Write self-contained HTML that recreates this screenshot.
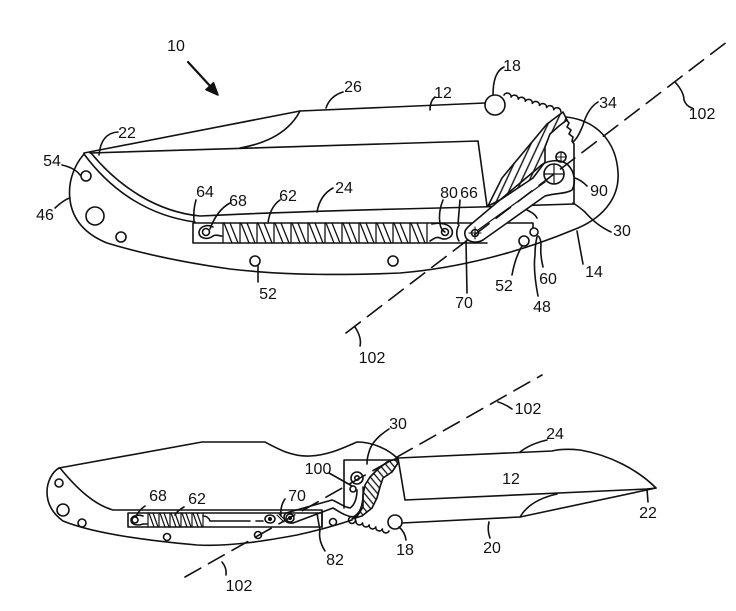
<!DOCTYPE html>
<html><head><meta charset="utf-8"><style>
html,body{margin:0;padding:0;background:#fff;}
svg{display:block;}
text{font-family:"Liberation Sans",sans-serif;font-size:16px;fill:#111;text-anchor:middle;}
</style></head><body>
<svg width="736" height="611" viewBox="0 0 736 611" xmlns="http://www.w3.org/2000/svg">
<defs>
<pattern id="h1" patternUnits="userSpaceOnUse" width="7" height="7" patternTransform="rotate(25)">
<line x1="3" y1="0" x2="3" y2="7" stroke="#111" stroke-width="1.4"/></pattern>
<pattern id="h2" patternUnits="userSpaceOnUse" width="5" height="5" patternTransform="rotate(-40)">
<line x1="2" y1="0" x2="2" y2="5" stroke="#111" stroke-width="1.3"/></pattern>
</defs>
<rect width="736" height="611" fill="#fff"/>
<g fill="none" stroke="#111" stroke-width="1.6" stroke-linejoin="round" stroke-linecap="round">

<!-- ===== TOP FIGURE ===== -->
<line x1="188" y1="62" x2="211" y2="87" stroke-width="2.2"/>
<polygon points="218,95 206,89.6 213.5,82.8" fill="#111"/>

<path d="M84,153 L300,111 L485,103"/>
<circle cx="495" cy="105" r="10"/>
<path d="M504,95 a3.8,3.8 0 0 1 7.1,2.1 a3.8,3.8 0 0 1 7.1,2.1 a3.8,3.8 0 0 1 7.1,2.1 a3.8,3.8 0 0 1 7.1,2.1 a3.8,3.8 0 0 1 7.1,2.1 a3.8,3.8 0 0 1 7.1,2.1 a3.8,3.8 0 0 1 7.1,2.1 a3.8,3.8 0 0 1 7.1,2.1"/>
<path d="M90,153 L478,141 L487,206"/>
<path d="M300,111 Q285,140 240,148"/>
<path d="M84,154 C112,192 150,216 195,222"/>
<path d="M91,153 C120,188 158,212 200,216 Q300,211 480,207 L574,204"/>
<path d="M84,154 C72,168 68,185 70,200 C72,215 80,232 107,243 C140,253 180,262 230,269 C290,276 350,275 400,273 C460,268 520,252 573,230 C600,220 620,200 618,172 C616,140 595,120 566,117"/>
<circle cx="86" cy="176" r="5"/>
<circle cx="95" cy="216" r="9"/>
<circle cx="121" cy="237" r="5"/>
<circle cx="255" cy="261" r="5"/>
<circle cx="393" cy="261" r="5"/>
<circle cx="524" cy="241" r="5"/>
<circle cx="534" cy="232" r="4"/>
<path d="M533,228 L533,223 L193,223 L193,243 L487,243"/>
<g stroke-width="1.3">
<path d="M223,223 V243 M224,223 L232,243 M230,223 L238,243
M240,223 V243 M241,223 L249,243 M247,223 L255,243
M257,223 V243 M258,223 L266,243 M264,223 L272,243
M274,223 V243 M275,223 L283,243 M281,223 L289,243
M291,223 V243 M292,223 L300,243 M298,223 L306,243
M308,223 V243 M309,223 L317,243 M315,223 L323,243
M325,223 V243 M326,223 L334,243 M332,223 L340,243
M342,223 V243 M343,223 L351,243 M349,223 L357,243
M359,223 V243 M360,223 L368,243 M366,223 L374,243
M376,223 V243 M377,223 L385,243 M383,223 L391,243
M393,223 V243 M394,223 L402,243 M400,223 L408,243
M410,223 V243 M411,223 L419,243 M417,223 L425,243
M427,223 V243"/>
</g>
<circle cx="206" cy="232" r="3.5"/>
<path d="M213,227 C208,224 200,226 199,232 C199,239 208,240 213,236 C216,234 219,236 222,236"/>
<circle cx="445" cy="232" r="3.5"/>
<path d="M432,224 C440,222 450,224 452,230 C454,237 446,241 440,238 C436,236 432,240 430,241"/>
<path d="M459,225 C456,230 456,236 459,241"/>
<path d="M469,226 L538,168 C545,160 560,158 568,165 C575,172 576,183 572,190 C566,194 555,193 545,196 L483,240 C476,244 466,242 465,235 C464,231 466,229 469,226 Z" fill="#fff"/>
<path d="M478,230 L545,182" stroke-width="1.2"/>
<circle cx="475" cy="233" r="3.5"/>
<path d="M475,227 V239 M469,233 H481" stroke-width="1.1"/>
<circle cx="554" cy="174" r="10"/>
<path d="M554,164 V184 M544,174 H564" stroke-width="1.2"/>
<circle cx="561" cy="157" r="5"/>
<path d="M561,152 V162 M556,157 H566" stroke-width="1.1"/>
<path d="M527,210 C531,212 535,214 537,218"/>
<path d="M488,206 L502,178 L527,148 L547,124 L563,112 L567,120 L559,126 L550,134 L545,147 L545,162 L533,178 L500,200 Z" fill="url(#h1)"/>
<path d="M566,119 L569,123 L567,127 L571,130 L569,134 L573,137 L572,141 L574,144 L574,204"/>

<line x1="346" y1="333" x2="732" y2="38" stroke-dasharray="18,9"/>

<path d="M343,92 Q330,96 326,108"/>
<path d="M435,97 Q430,101 430,110"/>
<path d="M504,67 Q493,72 493,95"/>
<path d="M598,102 Q588,108 583,125 Q578,138 573,142"/>
<path d="M675,82 Q684,92 684,100 Q686,106 692,108"/>
<path d="M118,132 Q101,133 99,155"/>
<path d="M62,165 Q75,168 80,175"/>
<path d="M55,208 Q65,199 70,198"/>
<path d="M196,200 Q193,210 194,222"/>
<path d="M230,203 Q217,210 210,229"/>
<path d="M280,200 Q270,207 268,223"/>
<path d="M333,188 Q320,195 317,212"/>
<path d="M258,266 L258,282"/>
<path d="M443,200 Q438,212 440,224 Q441,230 445,232"/>
<path d="M460,200 L458,224"/>
<path d="M587,186 Q581,180 575,178"/>
<path d="M611,232 Q596,225 585,212 Q578,206 573,203"/>
<path d="M583,264 Q580,248 577,231"/>
<path d="M543,267 Q540,255 541,245 Q541,238 538,236"/>
<path d="M512,275 Q515,258 522,246"/>
<path d="M538,296 Q533,270 535,255 Q535,245 537,237"/>
<path d="M467,293 L466,241"/>
<path d="M360,346 Q362,338 355,327"/>

<!-- ===== BOTTOM FIGURE ===== -->
<path d="M59,468 L202,442 L265,442 C280,450 293,457 310,456 C330,455 345,447 357,442 C372,442 388,449 397,458"/>
<path d="M59,468 C52,472 47,482 47,492 C47,503 52,513 63,521 C90,532 140,540 197,545 C230,547 270,540 297,535 C320,530 340,524 352,520"/>
<path d="M60,468 C78,490 95,505 113,510 L322,510 L322,527"/>
<rect x="128" y="513" width="194" height="14"/>
<g stroke-width="1.2">
<path d="M148,513 V527 M149,513 L154,527 M153,513 L158,527
M159,513 V527 M160,513 L165,527 M164,513 L169,527
M170,513 V527 M171,513 L176,527 M175,513 L180,527
M181,513 V527 M182,513 L187,527 M186,513 L191,527
M192,513 V527 M193,513 L198,527 M197,513 L202,527
M203,513 V527"/>
</g>
<circle cx="135" cy="520" r="3"/>
<path d="M143,516 C138,514 131,516 131,520 C131,525 138,526 143,524 L147,524"/>
<path d="M203,516 C207,516 209,518 210,521 L250,521 M256,521 L263,521"/>
<ellipse cx="270" cy="519" rx="5" ry="4"/>
<circle cx="270" cy="519" r="1.3" fill="#111"/>
<path d="M277,515 L284,522 M279,514 L286,521" stroke-width="1.1"/>
<path d="M286,513 L332,500 C338,502 343,507 350,508 C355,505 357,497 357,490"/>
<path d="M293,523 L333,508 C340,512 345,516 353,517 C360,514 364,505 363,487"/>
<path d="M286,513 C282,516 284,524 293,523"/>
<circle cx="290" cy="518" r="4"/>
<circle cx="290" cy="518" r="1.3" fill="#111"/>
<path d="M344,508 L344,460 L398,460"/>
<circle cx="357" cy="478" r="6"/>
<circle cx="357" cy="478" r="2.2"/>
<circle cx="353" cy="489" r="3"/>
<path d="M398,458 L387,462 L377,470 L370,477 L365,485 L363,495 L363,507 L358,515 L352,519 L362,516 L372,508 L377,498 L380,487 L383,478 L392,472 L398,463 Z" fill="url(#h2)"/>
<circle cx="59" cy="483" r="4"/>
<circle cx="63" cy="510" r="6"/>
<circle cx="82" cy="523" r="4"/>
<circle cx="167" cy="537" r="3.5"/>
<circle cx="258" cy="535" r="3.5"/>
<circle cx="333" cy="522" r="3.5"/>
<circle cx="352" cy="520" r="3.5"/>
<path d="M356,521 a3.5,3.5 0 0 0 6.6,2 a3.5,3.5 0 0 0 6.6,2 a3.5,3.5 0 0 0 6.6,2 a3.5,3.5 0 0 0 6.6,2 a3.5,3.5 0 0 0 6.6,2"/>
<circle cx="395" cy="522" r="7"/>
<path d="M398,458 L552,451 C560,449 570,449 580,450 C610,455 638,470 656,488 L647,489 L405,500 Z"/>
<path d="M402,523 L520,517 L656,488"/>
<path d="M520,517 Q530,500 557,494"/>
<line x1="185" y1="577" x2="542" y2="375" stroke-dasharray="18,9"/>
<path d="M498,402 Q505,404 512,409"/>
<path d="M389,429 Q372,440 369,452 Q367,458 367,464"/>
<path d="M520,452 Q530,444 547,440"/>
<path d="M329,473 L352,486"/>
<path d="M145,506 Q138,511 136,517"/>
<path d="M184,507 Q177,511 175,515"/>
<path d="M285,499 Q280,506 281,516"/>
<path d="M647,489 L648,502"/>
<path d="M489,522 Q487,530 490,538"/>
<path d="M399,527 Q405,532 406,540"/>
<path d="M325,551 Q318,540 320,530 Q318,520 317,513"/>
<path d="M222,562 Q227,568 226,575"/>
</g>

<text x="176" y="51">10</text>
<text x="353" y="92">26</text>
<text x="443" y="98">12</text>
<text x="512" y="71">18</text>
<text x="608" y="108">34</text>
<text x="702" y="119">102</text>
<text x="127" y="138">22</text>
<text x="52" y="166">54</text>
<text x="45" y="220">46</text>
<text x="205" y="197">64</text>
<text x="238" y="206">68</text>
<text x="288" y="201">62</text>
<text x="344" y="193">24</text>
<text x="449" y="198">80</text>
<text x="469" y="198">66</text>
<text x="599" y="196">90</text>
<text x="622" y="236">30</text>
<text x="594" y="277">14</text>
<text x="504" y="291">52</text>
<text x="548" y="284">60</text>
<text x="542" y="312">48</text>
<text x="464" y="308">70</text>
<text x="268" y="299">52</text>
<text x="372" y="363">102</text>

<text x="528" y="414">102</text>
<text x="398" y="429">30</text>
<text x="555" y="439">24</text>
<text x="318" y="474">100</text>
<text x="158" y="501">68</text>
<text x="197" y="504">62</text>
<text x="297" y="501">70</text>
<text x="511" y="484">12</text>
<text x="648" y="518">22</text>
<text x="492" y="553">20</text>
<text x="405" y="555">18</text>
<text x="335" y="565">82</text>
<text x="239" y="591">102</text>
</svg>
</body></html>
